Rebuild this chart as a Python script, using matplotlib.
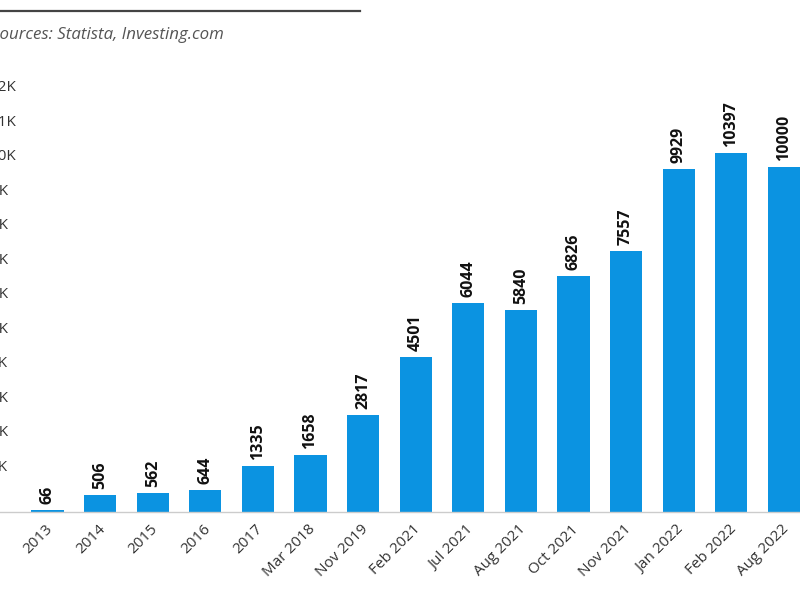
import matplotlib
matplotlib.use("Agg")
import matplotlib.pyplot as plt
from matplotlib.lines import Line2D
from matplotlib.transforms import offset_copy, blended_transform_factory, ScaledTranslation

categories = ["2013", "2014", "2015", "2016", "2017", "Mar 2018", "Nov 2019",
              "Feb 2021", "Jul 2021", "Aug 2021", "Oct 2021", "Nov 2021",
              "Jan 2022", "Feb 2022", "Aug 2022"]
values = [66, 506, 562, 644, 1335, 1658, 2817, 4501, 6044, 5840, 6826, 7557,
          9929, 10397, 10000]
ytick_values = [1000 * k for k in range(1, 13)]
ytick_labels = [f"{k}K" for k in range(1, 13)]
source_text = "Sources: Statista, Investing.com"

plt.rcParams['font.family'] = ['Open Sans', 'DejaVu Sans']

W, H = 800, 600
fig = plt.figure(figsize=(8, 6), dpi=100)
base_px = 512
ax = fig.add_axes([0, (H - base_px) / H, 1, base_px / H])
px_per_unit = 0.03453
ax.set_ylim(0, base_px / px_per_unit)
slot = 52.6
c0 = 47.5
ax.set_xlim((0 - c0) / slot, (W - c0) / slot)

bar_color = "#0B93E1"
x = list(range(len(categories)))
ax.bar(x, values, width=0.61, color=bar_color, zorder=2)

for xi, v in zip(x, values):
    t = offset_copy(ax.transData, fig=fig, x=0, y=6, units='dots')
    ax.text(xi, v, str(v), transform=t, rotation=90, ha='center', va='bottom',
            fontsize=11.5, fontweight='bold', color='#111111', clip_on=False)

for sp in ["top", "right", "left"]:
    ax.spines[sp].set_visible(False)
ax.spines["bottom"].set_color("#cccccc")
ax.spines["bottom"].set_linewidth(1)
ax.set_yticks([])
ax.set_xticks(x)
ax.set_xticklabels(categories, rotation=45, ha='right', va='center',
                   rotation_mode='anchor', fontsize=11, color='#333333')
ax.tick_params(axis='x', length=0, pad=11)
shift = ScaledTranslation(3 / 100, 0, fig.dpi_scale_trans)
for lbl in ax.get_xticklabels():
    lbl.set_transform(lbl.get_transform() + shift)

# y labels (partially cut by the left edge of the canvas)
ytrans = blended_transform_factory(fig.transFigure, ax.transData)
for v, lab in zip(ytick_values, ytick_labels):
    t = offset_copy(ytrans, fig=fig, x=0, y=10, units='dots')
    ax.text(-10 / W, v, lab, transform=t, ha='left', va='center', fontsize=11,
            color='#333333', clip_on=False)

# top rule and source
fig.add_artist(Line2D([0, 360 / W], [1 - 11 / H, 1 - 11 / H], color='#444444',
                      linewidth=1.6, transform=fig.transFigure))
fig.text(-9 / W, 1 - 35 / H, source_text, ha='left', va='center', fontsize=12.2,
         style='italic', color='#555555')

fig.savefig("out.png", dpi=100)
